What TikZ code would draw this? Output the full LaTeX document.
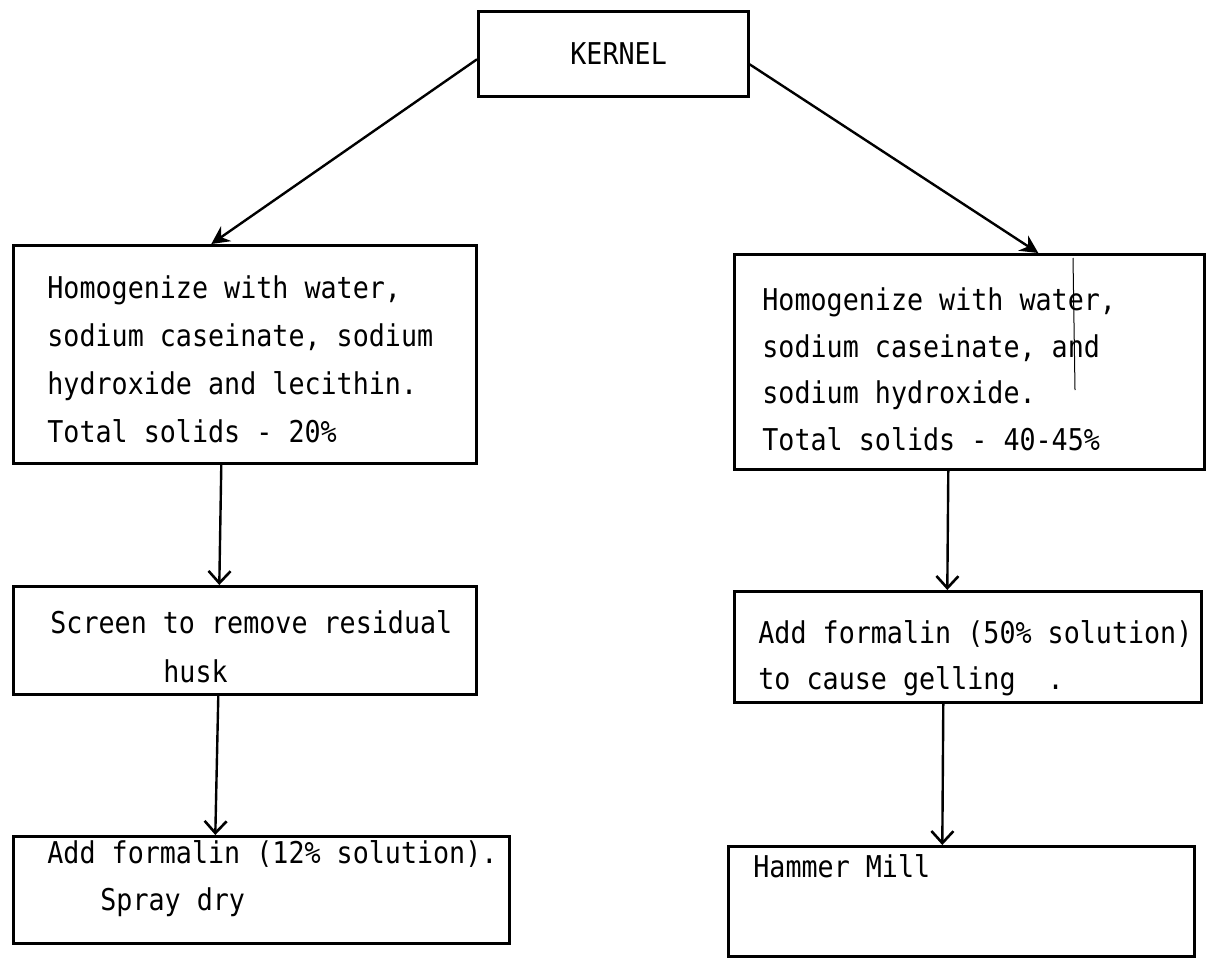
\documentclass[tikz,border=0pt]{standalone}
\usepackage{fontspec}
\newfontfamily\tw{DejaVu Sans Mono}[FakeStretch=0.89]
\usetikzlibrary{arrows.meta}
\begin{document}
\begin{tikzpicture}[x=0.5pt,y=-0.5pt,
  box/.style={draw, line width=1.3pt, inner sep=0pt, anchor=north west},
  txt/.style={anchor=base west, inner sep=0pt, font=\tw\fontsize{15pt}{18pt}\selectfont},
  arr/.style={line width=1.2pt, -{Straight Barb[length=6pt,width=11pt,line width=1.3pt]}},
  barr/.style={line width=1.2pt, -{Stealth[length=9pt,width=9pt,inset=3pt]}}]
\useasboundingbox (0,0) rectangle (1209,963);
% boxes
\node[box, minimum width=135pt, minimum height=42.5pt] (K) at (477,10) {};
\node[box, minimum width=231.5pt, minimum height=109pt] (L1) at (12,244) {};
\node[box, minimum width=235pt, minimum height=107.5pt] (R1) at (733,253) {};
\node[box, minimum width=231.5pt, minimum height=54pt] (L2) at (12,585) {};
\node[box, minimum width=233.5pt, minimum height=55.5pt] (R2) at (733,590) {};
\node[box, minimum width=248pt, minimum height=53.5pt] (L3) at (12,835) {};
\node[box, minimum width=233pt, minimum height=55pt] (R3) at (727,845) {};
% texts
\node[txt] (tK) at (570,65) {KERNEL};
\node[txt] (tL1a) at (47,298) {Homogenize with water,};
\node[txt] (tL1b) at (47,346) {sodium caseinate, sodium};
\node[txt] (tL1c) at (47,394) {hydroxide and lecithin.};
\node[txt] (tL1d) at (47,442) {Total solids - 20\%};
\node[txt] (tR1a) at (762,310) {Homogenize with water,};
\node[txt] (tR1b) at (762,357) {sodium caseinate, and};
\node[txt] (tR1c) at (762,403) {sodium hydroxide.};
\node[txt] (tR1d) at (762,450) {Total solids - 40-45\%};
\node[txt] (tL2a) at (50,633) {Screen to remove residual};
\node[txt] (tL2b) at (163,682) {husk};
\node[txt] (tR2a) at (758,643) {Add formalin (50\% solution)};
\node[txt] (tR2b) at (758,689) {to cause gelling\ \ .};
\node[txt] (tL3a) at (47,863) {Add formalin (12\% solution).};
\node[txt] (tL3b) at (100,910) {Spray dry};
\node[txt] (tR3a) at (753,877) {Hammer Mill};
% stray vertical stroke in right box
\coordinate (s1) at (1073,258);
\coordinate (s2) at (1075,390);
\draw[line width=0.5pt] (s1) -- (s2);
% connectors
\draw[barr] ([yshift=-2.75pt]K.west) -- ([xshift=-16.75pt]L1.north);
\draw[barr] ([yshift=-5.25pt]K.east) -- ([xshift=34.5pt]R1.north);
\draw[arr] ([xshift=-11.75pt]L1.south) -- ([xshift=-12.75pt]L2.north);
\draw[arr] ([xshift=-13.25pt]L2.south) -- ([xshift=-23pt]L3.north);
\draw[arr] ([xshift=-10.5pt]R1.south) -- ([xshift=-10.25pt]R2.north);
\draw[arr] ([xshift=-12.25pt]R2.south) -- ([xshift=-9.5pt]R3.north);
\end{tikzpicture}
\end{document}
